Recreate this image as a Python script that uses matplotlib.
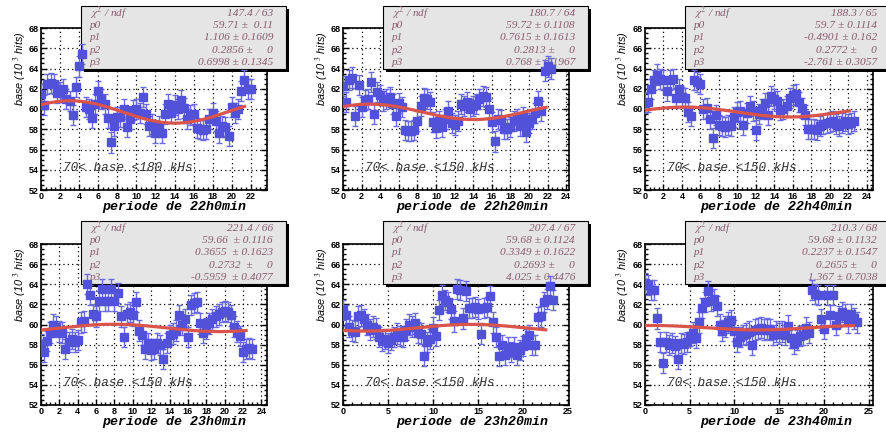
import numpy as np
import matplotlib
matplotlib.use("Agg")
import matplotlib.pyplot as plt
from matplotlib.patches import Rectangle
from matplotlib.ticker import MultipleLocator

# ---- data (base, 10^3 hits, one point every 1/3 hour) ----
periods = ["22h0min", "22h20min", "22h40min", "23h0min", "23h20min", "23h40min"]
cut_labels = ["70< base <180 kHs", "70< base <150 kHs", "70< base <150 kHs",
              "70< base <150 kHs", "70< base <150 kHs", "70< base <150 kHs"]

base_22h00 = [61.5, 60.4, 62.5, 62.6, 62.5, 61.6, 61.7, 62.0, 61.0, 60.8,
              59.4, 62.2, 64.2, 65.4, 60.2, 60.0, 59.1, 60.5, 61.8, 61.0,
              60.5, 59.1, 56.7, 58.3, 59.2, 59.2, 60.0, 58.2, 59.0, 59.9,
              60.0, 59.6, 61.2, 59.5, 58.3, 58.5, 57.6, 58.3, 57.6, 59.5,
              60.5, 59.6, 60.4, 60.0, 60.9, 60.1, 59.0, 59.4, 59.5, 58.1,
              58.0, 57.9, 58.0, 59.0, 59.6, 58.8, 57.6, 58.3, 58.2, 57.3,
              60.2, 59.6, 60.0, 61.8, 62.9, 62.0, 62.0]
base_22h20 = [62.3, 60.7, 62.9, 63.1, 59.3, 62.4, 60.2, 60.9, 61.0, 62.7,
              59.5, 61.7, 61.4, 60.8, 61.0, 61.2, 60.5, 59.3, 60.6, 60.2,
              57.9, 57.8, 57.8, 57.9, 58.8, 60.3, 61.1, 61.0, 60.7, 58.7,
              58.1, 58.8, 58.2, 59.0, 59.8, 58.6, 58.4, 58.8, 60.5, 60.3,
              60.7, 60.0, 60.3, 60.5, 61.0, 61.3, 61.2, 60.0, 58.7, 56.8,
              59.0, 58.9, 58.0, 58.0, 58.2, 58.8, 59.0, 58.3, 59.2, 57.7,
              58.6, 59.0, 59.6, 60.8, 59.8, 63.8, 64.2, 64.0]
base_22h40 = [60.6, 60.7, 62.0, 62.9, 63.4, 63.0, 62.9, 61.8, 62.9, 63.0,
              61.1, 62.0, 61.2, 61.1, 59.7, 59.3, 62.9, 62.7, 62.5, 60.0,
              60.1, 59.0, 57.1, 59.4, 58.4, 58.3, 58.2, 58.4, 58.3, 59.2,
              59.7, 59.8, 58.4, 59.6, 60.3, 59.8, 57.9, 59.5, 60.0, 60.6,
              59.4, 61.3, 61.0, 60.8, 59.9, 60.0, 60.3, 61.1, 61.4, 61.5,
              60.7, 60.1, 59.4, 58.0, 58.0, 58.0, 57.9, 58.3, 58.5, 58.6,
              58.7, 58.8, 58.5, 58.3, 58.6, 58.8, 58.5, 58.6, 58.8]
base_23h00 = [58.1, 57.3, 58.4, 59.2, 60.0, 59.8, 59.3, 59.2, 57.6, 58.3,
              58.6, 58.3, 58.5, 60.2, 60.3, 64.0, 62.9, 61.0, 60.8, 62.3,
              63.5, 62.3, 62.3, 63.5, 62.3, 63.1, 60.8, 58.8, 61.0, 61.2,
              60.9, 62.2, 59.4, 59.0, 57.6, 58.2, 57.5, 57.6, 58.2, 58.0,
              56.6, 58.2, 59.0, 59.1, 59.4, 60.9, 60.0, 60.5, 58.8, 61.9,
              62.1, 62.2, 60.1, 59.2, 59.6, 60.1, 60.5, 60.8, 61.0, 61.2,
              61.3, 61.2, 60.9, 59.8, 59.3, 58.9, 57.3, 57.6, 57.7, 57.6]
base_23h20 = [61.4, 60.9, 59.8, 59.4, 59.3, 60.8, 60.9, 60.5, 60.0, 59.5,
              59.8, 59.6, 58.8, 58.4, 58.6, 58.2, 58.5, 58.8, 59.1, 58.9,
              58.8, 59.5, 60.0, 59.8, 60.1, 59.2, 59.1, 56.9, 58.3, 58.6,
              59.7, 58.9, 61.4, 62.9, 62.4, 62.2, 61.5, 60.3, 63.5, 63.4,
              60.6, 63.3, 61.6, 61.6, 61.7, 61.5, 59.1, 61.6, 61.7, 62.8,
              60.2, 58.8, 56.9, 58.0, 57.0, 57.8, 57.3, 57.8, 57.0, 57.5,
              57.9, 58.6, 59.0, 58.0, 58.0, 60.7, 60.8, 62.2, 62.5, 63.8,
              62.4]
base_23h40 = [64.1, 63.9, 63.4, 63.4, 60.6, 58.3, 56.2, 58.3, 58.0, 58.2,
              57.9, 56.6, 58.2, 58.1, 58.3, 58.9, 59.2, 58.7, 60.2, 61.6,
              62.2, 63.3, 62.3, 62.5, 61.8, 60.0, 59.4, 59.8, 60.2, 60.4,
              59.4, 58.3, 58.8, 59.0, 59.1, 59.3, 58.0, 59.5, 59.6, 59.7,
              59.5, 59.6, 59.5, 59.0, 59.3, 59.1, 59.3, 59.0, 59.9, 58.7,
              58.1, 58.5, 58.9, 59.0, 59.7, 59.2, 63.4, 63.0, 62.9, 60.5,
              59.6, 62.9, 60.9, 62.9, 60.0, 60.8, 61.2, 61.0, 60.2, 61.0,
              60.6, 60.2]
all_base = [base_22h00, base_22h20, base_22h40, base_23h00, base_23h20, base_23h40]
base_err = [1.0, 1.0, 1.0, 1.0, 1.0, 1.0]

# fit  p0 + p1*sin(p2*x + p3)
fit_p0 = [59.71, 59.72, 59.7, 59.66, 59.68, 59.68]
fit_p1 = [1.106, 0.7615, -0.4901, 0.3655, 0.3349, 0.2237]
fit_p2 = [0.2856, 0.2813, 0.2772, 0.2732, 0.2693, 0.2655]
fit_p3 = [0.6998, 0.768, -2.761, -0.5959, 4.025, 1.367]
fit_end = [21.5, 22.0, 22.3, 22.5, 22.7, 23.5]

stat_rows = [
    ["147.4 / 63", "59.71 \u00b1  0.11", "1.106 \u00b1 0.1609", "0.2856 \u00b1     0", "0.6998 \u00b1 0.1345"],
    ["180.7 / 64", "59.72 \u00b1 0.1108", "0.7615 \u00b1 0.1613", "0.2813 \u00b1     0", "0.768 \u00b1 0.1967"],
    ["188.3 / 65", "59.7 \u00b1 0.1114", "-0.4901 \u00b1 0.162", "0.2772 \u00b1     0", "-2.761 \u00b1 0.3057"],
    ["221.4 / 66", "59.66  \u00b1 0.1116", "0.3655  \u00b1 0.1623", "0.2732  \u00b1     0", "-0.5959  \u00b1 0.4077"],
    ["207.4 / 67", "59.68 \u00b1 0.1124", "0.3349 \u00b1 0.1622", "0.2693 \u00b1     0", "4.025 \u00b1 0.4476"],
    ["210.3 / 68", "59.68 \u00b1 0.1132", "0.2237 \u00b1 0.1547", "0.2655 \u00b1     0", "1.367 \u00b1 0.7038"],
]
stat_names = ["$\\chi^{2}$ / ndf", "p0", "p1", "p2", "p3"]

x_max = [23.7, 24.3, 24.7, 24.6, 25.1, 25.5]
x_major = [2, 2, 2, 2, 5, 5]

W, H = 886, 433
plt.rcParams['mathtext.fontset'] = 'stix'
fig = plt.figure(figsize=(W / 100, H / 100), dpi=100)

# axes frames in pixels (left, top, right, bottom)
frames = [(41, 28, 267, 190), (343, 28, 569, 190), (645, 28, 873, 190),
          (41, 244, 267, 405), (343, 244, 569, 405), (645, 244, 873, 405)]
box_left = [81, 383, 685, 81, 383, 685]
box_top = [6, 6, 6, 221, 221, 221]

mark_col = '#5151d9'
err_col = '#6a6ae0'
fit_col = '#d9544a'
txt_col = '#8a5a6e'

def fx(px):
    return px / W

def fy(py):
    return 1 - py / H

for k in range(6):
    l, t, r, b = frames[k]
    ax = fig.add_axes([fx(l), fy(b), (r - l) / W, (b - t) / H])
    y = np.array(all_base[k])
    x = np.arange(len(y)) / 3.0

    ax.set_xlim(0, x_max[k])
    ax.set_ylim(52, 68)
    ax.xaxis.set_major_locator(MultipleLocator(x_major[k]))
    ax.xaxis.set_minor_locator(MultipleLocator(x_major[k] / 4 if x_major[k] == 2 else 1))
    ax.yaxis.set_major_locator(MultipleLocator(2))
    ax.yaxis.set_minor_locator(MultipleLocator(0.5))
    ax.set_axisbelow(True)
    ax.grid(True, which='major', color='black', linestyle=(0, (1, 2.5)), linewidth=0.9)
    ax.tick_params(which='both', direction='in', right=True, top=False, width=1.0, pad=1.5)
    ax.tick_params(which='major', length=4)
    ax.tick_params(which='minor', length=2)
    for lab in ax.get_xticklabels() + ax.get_yticklabels():
        lab.set_fontfamily('Liberation Sans')
        lab.set_fontweight('bold')
        lab.set_fontsize(6.5)
    for s in ax.spines.values():
        s.set_linewidth(1.2)
        s.set_zorder(1.0)

    ax.errorbar(x, y, yerr=base_err[k], fmt='s', ms=5.6, mfc=mark_col, mec=mark_col,
                ecolor=err_col, elinewidth=1.0, capsize=2.2, capthick=1.0, zorder=3)

    xf = np.linspace(0, fit_end[k], 300)
    ax.plot(xf, fit_p0[k] + fit_p1[k] * np.sin(fit_p2[k] * xf + fit_p3[k]),
            color=fit_col, lw=2.3, zorder=4, solid_capstyle='butt')

    # stats box
    bl, bt = box_left[k], box_top[k]
    bw, bh = 205, 63
    shadow = Rectangle((fx(bl + 3), fy(bt + bh + 3)), bw / W, bh / H, transform=fig.transFigure,
                       facecolor='black', edgecolor='none', clip_on=False, zorder=1.4)
    box = Rectangle((fx(bl), fy(bt + bh)), bw / W, bh / H, transform=fig.transFigure,
                    facecolor='#e5e5e5', edgecolor='black', lw=0.8, clip_on=False, zorder=1.5)
    ax.add_artist(shadow)
    ax.add_artist(box)
    for j in range(5):
        yy = fy(bt + 7.5 + j * 12.2)
        ax.text(fx(bl + 9), yy, stat_names[j], transform=fig.transFigure, ha='left', va='center',
                fontsize=8.0, family='Liberation Serif', style='italic', color=txt_col,
                clip_on=False, zorder=1.6)
        ax.text(fx(bl + bw - 13), yy, stat_rows[k][j], transform=fig.transFigure, ha='right',
                va='center', fontsize=8.2, family='Liberation Serif', style='italic',
                color=txt_col, clip_on=False, zorder=1.6)

    ax.text(0.097, 0.136, cut_labels[k], transform=ax.transAxes, ha='left', va='center',
            fontsize=9.2, family='Liberation Mono', style='italic', color='#333333', zorder=2)

    ax.set_xlabel('periode de ' + periods[k], fontsize=9.5, family='Liberation Mono',
                  style='italic', fontweight='bold', ha='right', va='center')
    ax.xaxis.set_label_coords(0.91, -0.105)
    ax.set_ylabel('base (10 $^{3}$ hits)', fontsize=7.8, family='Liberation Sans',
                  style='italic', ha='right', va='center')
    ax.yaxis.set_label_coords(-0.093, 0.98)

fig.savefig('out.png', dpi=100)
